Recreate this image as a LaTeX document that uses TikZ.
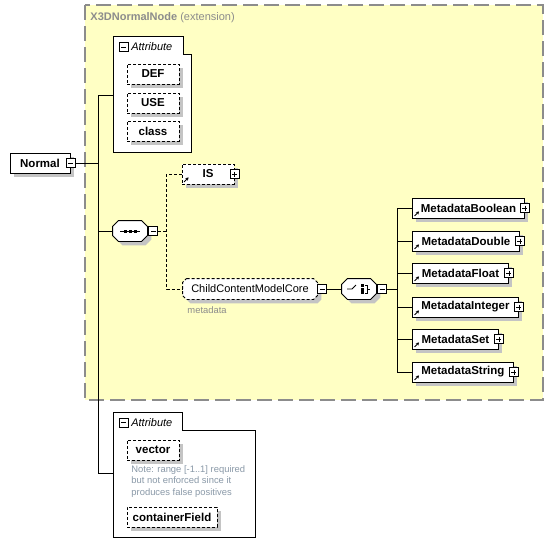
\documentclass[tikz,border=0pt]{standalone}
\usepackage{fontspec}
\setmainfont{Liberation Sans}
\usepackage{xcolor}
\usetikzlibrary{arrows.meta, positioning, shadows}

\definecolor{extfill}{HTML}{FFFFC4}
\definecolor{extline}{HTML}{8C8C8C}
\definecolor{notegray}{HTML}{8A99A8}
\definecolor{shadegray}{HTML}{C4C4C4}

\begin{document}
\begin{tikzpicture} [x = 1pt, y = -1pt,
          line width = 0.9pt,
          %every node/.style = {draw = red},
          shade/.style = {drop shadow = {shadow xshift = 4pt, shadow yshift = -4pt,
                  fill = shadegray, opacity = 1}
          },
          elem/.style = {draw, fill = white, inner sep = 0pt, shade,
              minimum height = 20pt,
              font = \fontsize{11.5}{13}\selectfont\bfseries
          },
          optline/.style = {dash pattern = on 3pt off 2pt},
          optelem/.style = {elem, optline},
          compositor/.style = {inner sep = 0pt, minimum height = 20pt},
          octagon/.style = {draw, fill = white, shade},
          minusbox/.style = {draw, fill = white, solid, inner sep = 0pt,
              minimum size = 9pt, line width = 0.8pt,
              path picture = {\draw ([xshift = 2pt]path picture bounding box.west)
                  -- ([xshift = -2pt]path picture bounding box.east);}
          },
          plusbox/.style = {minusbox,
              path picture = {\draw ([xshift = 2pt]path picture bounding box.west)
                  -- ([xshift = -2pt]path picture bounding box.east);
                  \draw ([yshift = -2pt]path picture bounding box.north)
                  -- ([yshift = 2pt]path picture bounding box.south);}
          },
          refarrow/.style = {solid, line width = 0.8pt,
              -{Stealth[length = 3pt, width = 3.5pt]}
          },
          attrgroup/.style = {draw, fill = white},
          header/.style = {anchor = west, inner sep = 2.5pt,
              font = \fontsize{11}{13}\selectfont\itshape
          },
          note/.style = {anchor = north west, inner sep = 0pt, align = left,
              text = notegray, font = \fontsize{9.4}{11.5}\selectfont
          }
          ]

          \useasboundingbox (0,0) rectangle (553,555);

          % extension area
          \draw [fill = extfill, draw = extline, line width = 1.2pt,
              dash pattern = on 15pt off 6pt] (85,5) rectangle (543,400);
          \node (title) [anchor = west, inner sep = 0pt, text = extline,
              font = \fontsize{11}{13}\selectfont] at (90,18)
              {\textbf{X3DNormalNode} (extension)};

          % first attribute group
          \draw [attrgroup] (113,36) -| (183,54) -| (191,152) -| cycle;
          \node (attr1sign) [minusbox] at (123.5,47) {};
          \node (attr1) [header] at (attr1sign.east) {Attribute};
          \node (def) [optelem, minimum width = 52pt] at (153,74) {DEF};
          \node (use) [optelem, minimum width = 52pt] at (153,103) {USE};
          \node (class) [optelem, minimum width = 52pt] at (153,131) {class};
          \coordinate (attr1in) at (113,95);

          % root element
          \node (normal) [elem, minimum width = 60pt] at (40,163) {Normal};
          \node (normalsign) [minusbox] at (normal.east) {};
          \coordinate (trunk) at (98,163);

          % compositors and group
          \node (seq) [compositor, minimum width = 34pt] at (130,231) {};
          \node (core) [compositor, minimum width = 134pt] at (250,289) {};
          \node (choice) [compositor, minimum width = 34pt] at (359,289) {};
          \foreach \c/\s/\d in {seq/6pt/solid, choice/6pt/solid, core/4pt/optline} {
              \draw [octagon, \d] ([xshift = \s]\c.north west) -- ([xshift = -\s]\c.north east)
                  -- ([yshift = -\s]\c.north east) -- ([yshift = \s]\c.south east)
                  -- ([xshift = -\s]\c.south east) -- ([xshift = \s]\c.south west)
                  -- ([yshift = \s]\c.south west) -- ([yshift = -\s]\c.north west) -- cycle;
          }

          % sequence
          \node (seqsign) [minusbox, anchor = west] at ([xshift = 1pt]seq.east) {};
          \begin{scope}[shift = {(seq.center)}]
              \draw (-10,0) -- (10,0);
              \fill (-6.5,-1.5) rectangle (-3.5,1.5);
              \fill (-1.5,-1.5) rectangle (1.5,1.5);
              \fill (3.5,-1.5) rectangle (6.5,1.5);
          \end{scope}

          \node (is) [optelem, minimum width = 52pt] at (208,174) {IS};
          \node (issign) [plusbox] at (is.east) {};
          \draw [refarrow] ([shift = {(2.5pt,2.5pt)}]is.south west) -- ++(4.5,-4.5);

          \node (corename) [font = \fontsize{11}{13}\selectfont] at (core.center) {ChildContentModelCore};
          \node (coresign) [minusbox, anchor = west] at (core.east) {};
          \node (coremeta) [note, text = extline] at (187,306) {metadata};

          % choice
          \node (choicesign) [minusbox, anchor = west] at ([xshift = 1pt]choice.east) {};
          \begin{scope}[shift = {(choice.center)}]
              \draw (-12,0) -- (-7,0) -- (-3,-4);
              \fill (2,-5) rectangle (5,-2);
              \fill (2,-1.5) rectangle (5,1.5);
              \fill (2,2) rectangle (5,5);
              \draw (6,-4) -- (8,-4) -- (8,4) -- (6,4);
              \draw (8,0) -- (11,0);
          \end{scope}

          \node (mbool) [elem, anchor = west, minimum width = 112pt] at (412,208) {MetadataBoolean};
          \node (mdouble) [elem, anchor = west, minimum width = 107pt] at (412,241) {MetadataDouble};
          \node (mfloat) [elem, anchor = west, minimum width = 96pt] at (412,273) {MetadataFloat};
          \node (mint) [elem, anchor = west, minimum width = 106pt] at (412,307) {MetadataInteger};
          \node (mset) [elem, anchor = west, minimum width = 86pt] at (412,339) {MetadataSet};
          \node (mstring) [elem, anchor = west, minimum width = 101pt] at (412,372) {MetadataString};
          \foreach \m in {mbool, mdouble, mfloat, mint, mset, mstring} {
              \node (\m sign) [plusbox] at (\m.east) {};
              \draw [refarrow] ([shift = {(2.5pt,2.5pt)}]\m.south west) -- ++(4.5,-4.5);
          }

          % second attribute group
          \draw [attrgroup] (113,412) -| (182,430) -| (255,537) -| cycle;
          \node (attr2sign) [minusbox] at (123.5,422.5) {};
          \node (attr2) [header] at (attr2sign.east) {Attribute};
          \node (vector) [optelem, minimum width = 52pt] at (153,450) {vector};
          \node (vectornote) [note] at (131,465)
              {Note: range [-1..1] required\\but not enforced since it\\produces false positives};
          \node (cfield) [optelem, minimum width = 90pt] at (172,517) {containerField};
          \coordinate (attr2in) at (113,473);

          % Links
          \draw (attr1in) -- ++(-15,0) |- (attr2in);
          \draw (normalsign.east) -- (trunk);
          \draw (seq.west) -- (seq.west -| trunk);
          \draw [optline] (seqsign.east) -- ++(9,0);
          \draw [optline] (is.west) -- ++(-15,0) |- (core.west);
          \draw (coresign.east) -- (choice.west);
          \draw (choicesign.east) -- ++(10,0);
          \draw (mbool.west) -- ++(-15,0) |- (mstring.west);
          \draw (mdouble.west) -- ++(-15,0);
          \draw (mfloat.west) -- ++(-15,0);
          \draw (mint.west) -- ++(-15,0);
          \draw (mset.west) -- ++(-15,0);

        \end{tikzpicture}
\end{document}
